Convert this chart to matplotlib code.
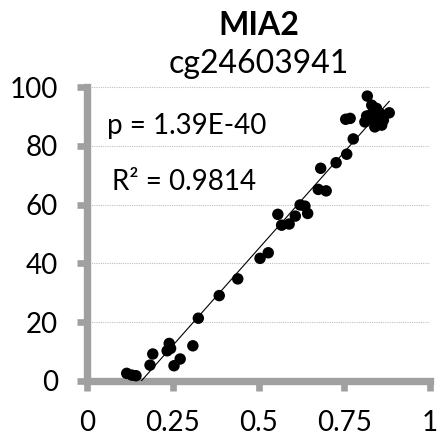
import numpy as np
import matplotlib
matplotlib.use("Agg")
import matplotlib.pyplot as plt

plt.rcParams['font.family'] = ['Lato', 'DejaVu Sans']

gene = "MIA2"
probe = "cg24603941"
p_label = "p = 1.39E-40"
r2_label = "R\u00b2 = 0.9814"

methylation = [0.115, 0.130, 0.142, 0.183, 0.191, 0.233, 0.239, 0.243, 0.253, 0.271,
               0.308, 0.324, 0.385, 0.439, 0.504, 0.528, 0.556, 0.567, 0.589, 0.607,
               0.621, 0.635, 0.643, 0.674, 0.697, 0.681, 0.726, 0.757, 0.776, 0.754,
               0.767, 0.817, 0.830, 0.844, 0.810, 0.815, 0.835, 0.839, 0.859, 0.864,
               0.881, 0.854, 0.825]
measured = [2.5, 1.9, 1.7, 5.3, 9.1, 10.2, 12.7, 11.0, 5.1, 7.4,
            11.9, 21.3, 29.0, 34.7, 41.7, 43.6, 56.7, 53.0, 53.4, 56.1,
            59.9, 59.5, 57.0, 65.2, 64.7, 72.4, 74.3, 77.2, 82.4, 89.1,
            89.4, 97.0, 93.9, 92.8, 88.2, 90.2, 88.8, 86.5, 87.1, 88.8,
            91.3, 91.1, 90.5]

x_ticks = [0, 0.25, 0.5, 0.75, 1]
x_tick_labels = ["0", "0.25", "0.5", "0.75", "1"]
y_ticks = [0, 20, 40, 60, 80, 100]

x = np.array(methylation)
y = np.array(measured)

fig = plt.figure(figsize=(4.4, 4.42), dpi=100)
ax = fig.add_axes([0.1984, 0.1387, 0.9773 - 0.1984, 0.8025 - 0.1387])

ax.scatter(x, y, s=68, color='black', edgecolors='none', zorder=3, clip_on=False)

# least-squares trend line over the data range
slope, intercept = np.polyfit(x, y, 1)
xl = np.linspace(x.min(), x.max(), 200)
ax.plot(xl, slope * xl + intercept, color='black', lw=0.8, zorder=4)

ax.set_xlim(0, 1)
ax.set_ylim(0, 100)
ax.set_xticks(x_ticks)
ax.set_xticklabels(x_tick_labels)
ax.set_yticks(y_ticks)

spine_col = '#a0a0a0'
for side in ('top', 'right'):
    ax.spines[side].set_visible(False)
for side in ('left', 'bottom'):
    ax.spines[side].set_color(spine_col)
    ax.spines[side].set_linewidth(5.3)
    ax.spines[side].set_capstyle('projecting')
    ax.spines[side].set_zorder(2)

ax.tick_params(axis='both', which='major', length=7, width=4.8, color=spine_col,
               labelsize=20, labelcolor='black', direction='out')
ax.tick_params(axis='y', pad=14)
ax.tick_params(axis='x', pad=14)

ax.yaxis.grid(True, linestyle=(0, (1, 1)), color='#c0c0c0', linewidth=0.8, zorder=0)
ax.xaxis.grid(False)
ax.set_axisbelow(True)

ax.text(0.0566, 84.2, p_label, fontsize=20, ha='left', va='baseline')
ax.text(0.0712, 65.0, r2_label, fontsize=20, ha='left', va='baseline')

fig.text(0.5875, 1 - 35 / 442, gene, fontsize=23, fontweight='bold', ha='center', va='baseline')
fig.text(0.5875, 1 - 73 / 442, probe, fontsize=23, ha='center', va='baseline')

fig.savefig("out.png", dpi=100)
